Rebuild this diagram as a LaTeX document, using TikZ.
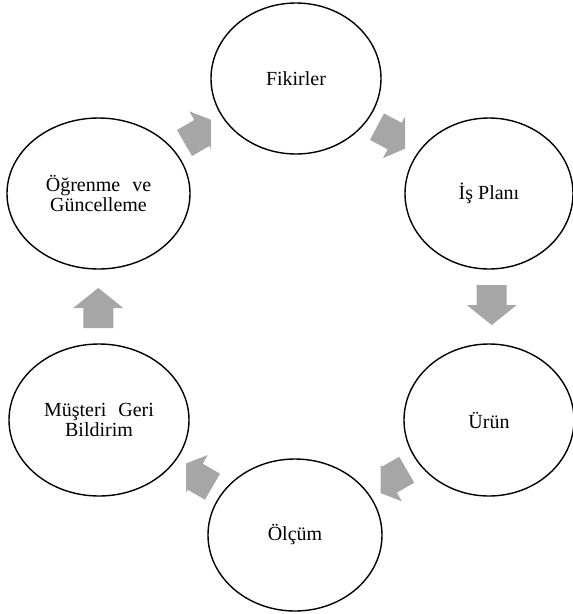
\documentclass[tikz,border=0pt]{standalone}
\usepackage{fontspec}
\setmainfont{Liberation Serif}
\usetikzlibrary{shapes.geometric}
\definecolor{arrowgray}{HTML}{A6A6A6}
\tikzset{
  stage/.style={ellipse, draw=black, line width=1.4pt, inner sep=0pt,
    align=center, font=\fontsize{20}{20.5}\selectfont},
  blockarrow/.style={fill=arrowgray, draw=none},
}
% block arrow: #1 = tail coordinate, #2 = direction in degrees
\newcommand\cyclearrow[2]{%
  \fill[blockarrow, shift={(#1)}, rotate=#2]
    (0,-15) -- (20,-15) -- (20,-25) -- (40,0) -- (20,25) -- (20,15) -- (0,15) -- cycle;}
\begin{document}
\begin{tikzpicture}[x=1pt,y=-1pt]
\useasboundingbox (0,0) rectangle (573,614);

% the six stages of the cycle
\node[stage, minimum width=170pt, minimum height=151pt] (fik) at (296,78.5) {Fikirler};
\node[stage, minimum width=168pt, minimum height=151pt] (plan) at (489,193.5) {İş Planı};
\node[stage, minimum width=170pt, minimum height=152pt] (urun) at (489,420) {Ürün};
\node[stage, minimum width=174pt, minimum height=152pt] (olcum) at (295,535) {Ölçüm};
\node[stage, minimum width=180pt, minimum height=152pt] (musteri) at (99,420) {Müşteri\hspace{12pt}Geri\\Bildirim};
\node[stage, minimum width=183pt, minimum height=151pt] (ogrenme) at (98.5,193.5) {Öğrenme\hspace{12pt}ve\\Güncelleme};

% tails of the arrows between the stages
\coordinate (t1) at (184.5,143);
\coordinate (t2) at (377,126.7);
\coordinate (t3) at (491.7,285);
\coordinate (t4) at (406.7,469.7);
\coordinate (t5) at (212.5,486.7);
\coordinate (t6) at (98.3,328);

\begin{scope}
  \clip (0,0) rectangle (211,614);
  \cyclearrow{t1}{30}
\end{scope}
\begin{scope}
  \clip (0,0) rectangle (405,614);
  \cyclearrow{t2}{-28}
\end{scope}
\cyclearrow{t3}{-90}
\begin{scope}
  \clip (380.7,0) rectangle (573,614);
  \cyclearrow{t4}{210}
\end{scope}
\begin{scope}
  \clip (186,0) rectangle (573,614);
  \cyclearrow{t5}{150}
\end{scope}
\cyclearrow{t6}{90}
\end{tikzpicture}
\end{document}
